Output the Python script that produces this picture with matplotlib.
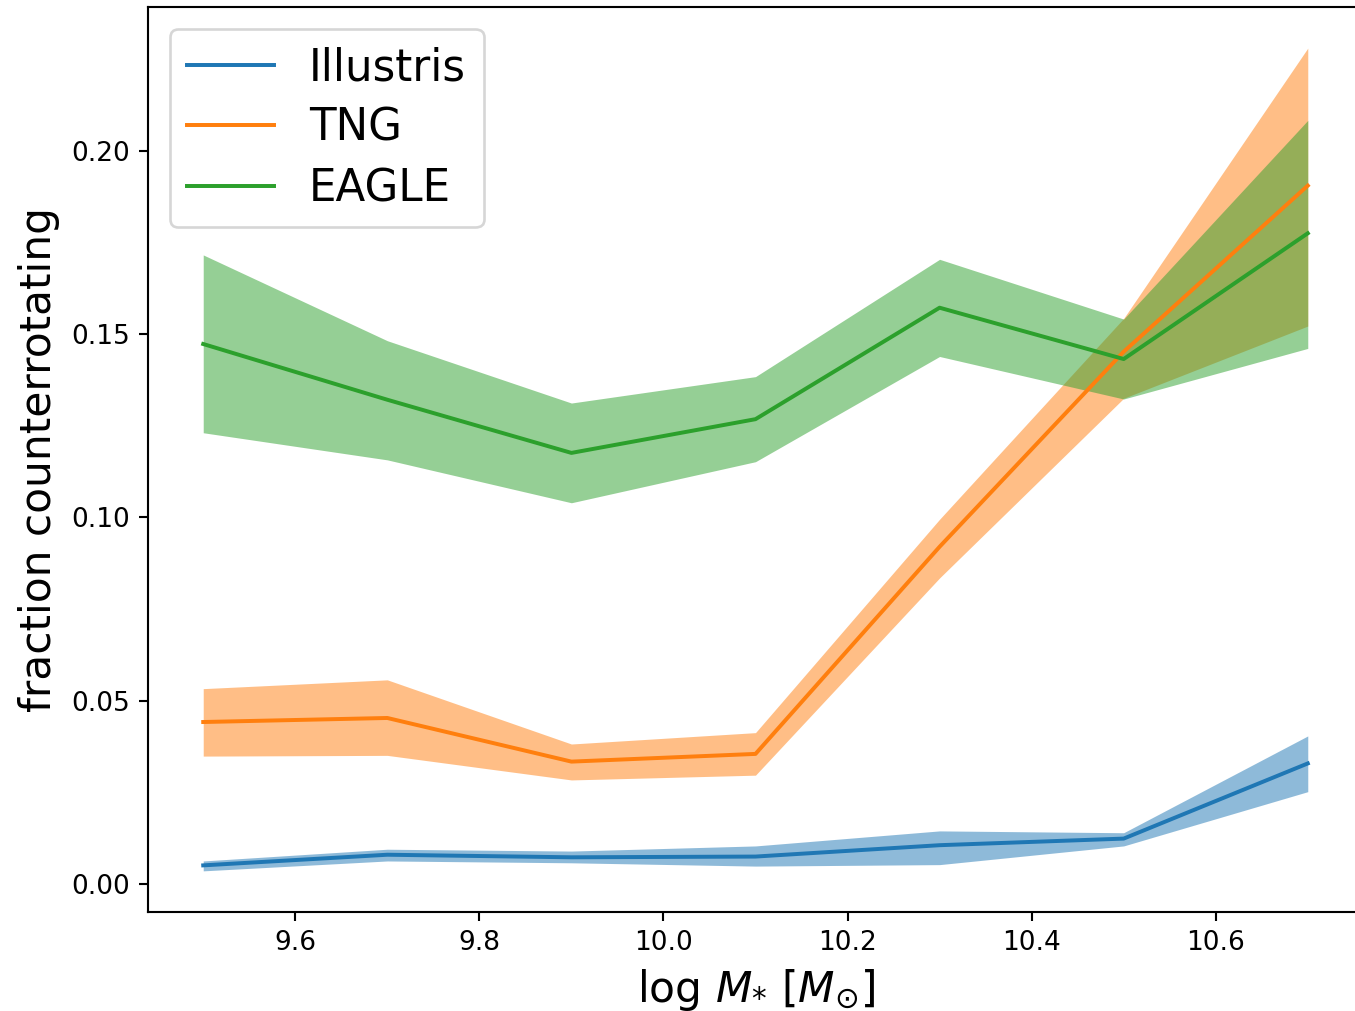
import matplotlib

matplotlib.use("Agg")
import matplotlib.pyplot as plt
import numpy as np

log_mass = np.array([9.5, 9.7, 9.9, 10.1, 10.3, 10.5, 10.7])

illustris_mid = [0.0051, 0.0080, 0.0073, 0.0075, 0.0106, 0.0124, 0.0329]
illustris_lo = [0.0036, 0.0063, 0.0058, 0.0049, 0.0053, 0.0104, 0.0252]
illustris_hi = [0.0063, 0.0095, 0.0090, 0.0104, 0.0145, 0.0140, 0.0404]

tng_mid = [0.0442, 0.0453, 0.0334, 0.0355, 0.0920, 0.1452, 0.1905]
tng_lo = [0.0349, 0.0351, 0.0284, 0.0297, 0.0835, 0.1325, 0.1522]
tng_hi = [0.0533, 0.0557, 0.0382, 0.0413, 0.0995, 0.1543, 0.2280]

eagle_mid = [0.1473, 0.1321, 0.1176, 0.1268, 0.1572, 0.1432, 0.1775]
eagle_lo = [0.1231, 0.1157, 0.1040, 0.1152, 0.1439, 0.1323, 0.1461]
eagle_hi = [0.1716, 0.1482, 0.1312, 0.1384, 0.1704, 0.1541, 0.2083]

series = [
    ("Illustris", illustris_mid, illustris_lo, illustris_hi),
    ("TNG", tng_mid, tng_lo, tng_hi),
    ("EAGLE", eagle_mid, eagle_lo, eagle_hi),
]

dpi = 190
fig = plt.figure(figsize=(1355 / dpi, 1011 / dpi), dpi=dpi)
# axes run a little past the right edge, as in the cropped original
ax = fig.add_axes([148 / 1355, 99 / 1011, (1363 - 148) / 1355, (912 - 7) / 1011])

for name, mid, lo, hi in series:
    line, = ax.plot(log_mass, mid, label=name)
    ax.fill_between(log_mass, lo, hi, color=line.get_color(), alpha=0.5, lw=0)

ax.set_xticks([9.6, 9.8, 10.0, 10.2, 10.4, 10.6])
ax.set_yticks([0.0, 0.05, 0.10, 0.15, 0.20])
ax.spines["right"].set_visible(False)  # cropped off in the original
ax.set_xlabel(r"$\log\, M_{*}\ [M_{\odot}]$", fontsize=16)
ax.set_ylabel("fraction counterrotating", fontsize=16)
ax.legend(loc="upper left", fontsize=16.5, labelspacing=0.4)

fig.savefig("out.png", dpi=dpi)
